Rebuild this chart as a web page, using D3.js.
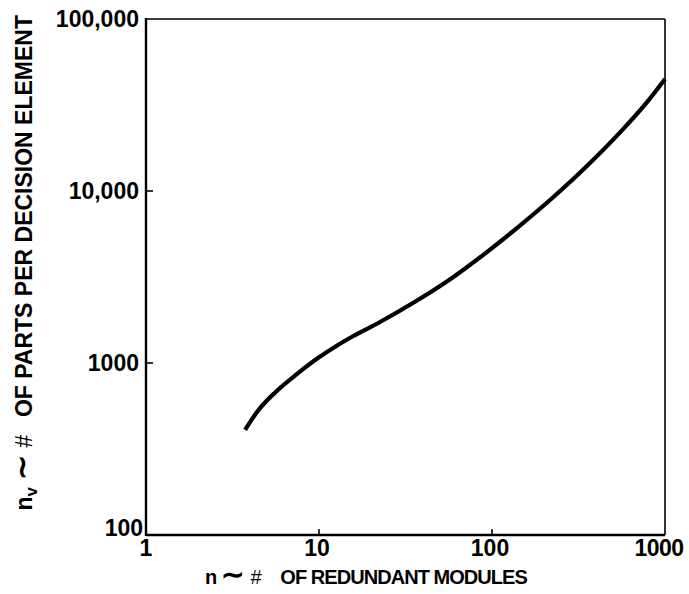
<!DOCTYPE html>
<html>
<head>
<meta charset="utf-8">
<script src="https://cdn.jsdelivr.net/npm/d3@7"></script>
<style>
  html, body { margin: 0; padding: 0; background: #fff; }
  svg { display: block; }
  text { font-family: "Liberation Sans", Arial, Helvetica, sans-serif; font-weight: bold; fill: #000; white-space: pre; }
  .hash { font-weight: normal; font-style: italic; }
</style>
</head>
<body>
<svg id="chart" width="689" height="594"></svg>
<script>
// Data
const modulesN = [3.74, 4.47, 5.62, 7.50, 10, 12.6, 15.8, 22.4, 35.5, 56.2, 89.1, 141, 224, 355, 562, 794, 1000];
const partsNv  = [408, 533, 679, 867, 1079, 1256, 1435, 1726, 2254, 3027, 4256, 6152, 9141, 14030, 22440, 33190, 44770];
const xTickValues = [1, 10, 100, 1000];
const xTickLabels = ["1", "10", "100", "1000"];
const yTickValues = [100, 1000, 10000, 100000];
const yTickLabels = ["100", "1000", "10,000", "100,000"];
const xTitleParts = ["n", "\u223C", "#", "OF REDUNDANT MODULES"];
const yTitleParts = ["n", "v", "\u223C", "#", "OF PARTS PER DECISION ELEMENT"];

const svg = d3.select("#chart");
const pLeft = 146, pRight = 665, pTop = 19, pBottom = 535;

const x = d3.scaleLog().domain([1, 1000]).range([pLeft, pRight]);
const y = d3.scaleLog().domain([100, 100000]).range([pBottom, pTop]);

// Frame
const g = svg.append("g");
g.append("line").attr("x1", pLeft).attr("x2", pRight).attr("y1", pTop).attr("y2", pTop)
  .attr("stroke", "#000").attr("stroke-width", 1.6);
g.append("line").attr("x1", pRight).attr("x2", pRight).attr("y1", pTop).attr("y2", pBottom)
  .attr("stroke", "#000").attr("stroke-width", 1.6);
g.append("line").attr("x1", pLeft).attr("x2", pRight).attr("y1", pBottom).attr("y2", pBottom)
  .attr("stroke", "#000").attr("stroke-width", 2.4);
g.append("line").attr("x1", pLeft).attr("x2", pLeft).attr("y1", pTop - 1).attr("y2", pBottom + 1)
  .attr("stroke", "#000").attr("stroke-width", 2.4);

// Inner ticks
g.selectAll(".xt").data(xTickValues.slice(1, -1)).enter().append("line")
  .attr("x1", d => x(d)).attr("x2", d => x(d)).attr("y1", pBottom).attr("y2", pBottom - 6)
  .attr("stroke", "#000").attr("stroke-width", 1.6);
g.selectAll(".yt").data(yTickValues.slice(1, -1)).enter().append("line")
  .attr("x1", pLeft).attr("x2", pLeft + 7).attr("y1", d => y(d)).attr("y2", d => y(d))
  .attr("stroke", "#000").attr("stroke-width", 1.6);

// X tick labels
g.selectAll(".xl").data(xTickValues).enter().append("text")
  .attr("x", (d, i) => x(d) + (i === 0 ? 0 : (i === 3 ? -6 : -2)))
  .attr("y", pBottom + 21)
  .attr("text-anchor", "middle")
  .attr("font-size", 23)
  .attr("letter-spacing", (d, i) => i === 3 ? -0.6 : 0)
  .text((d, i) => xTickLabels[i]);

// Y tick labels
g.selectAll(".yl").data(yTickValues).enter().append("text")
  .attr("x", (d, i) => i === 0 ? 143 : 139)
  .attr("y", (d, i) => y(d) + (i === 0 ? 1 : 8))
  .attr("text-anchor", "end")
  .attr("font-size", 23)
  .text((d, i) => yTickLabels[i]);

// Curve
const pts = modulesN.map((n, i) => [x(n), y(partsNv[i])]);
svg.append("path")
  .attr("d", d3.line().curve(d3.curveMonotoneX)(pts))
  .attr("fill", "none").attr("stroke", "#000").attr("stroke-width", 4.2)
  .attr("stroke-linecap", "butt");

// X axis title
const xt = svg.append("text")
  .attr("x", 205).attr("y", 584)
  .attr("text-anchor", "start")
  .attr("font-size", 20);
xt.append("tspan").text(xTitleParts[0]);
xt.append("tspan").attr("dx", 4).attr("font-size", 28).text(xTitleParts[1]);
xt.append("tspan").attr("dx", 6).attr("class", "hash").text(xTitleParts[2]);
xt.append("tspan").attr("dx", 19).attr("letter-spacing", -0.95).text(xTitleParts[3]);

// Y axis title (rotated)
const yt = svg.append("text")
  .attr("transform", "translate(32,15) rotate(-90)")
  .attr("text-anchor", "end")
  .attr("font-size", 23);
yt.append("tspan").text(yTitleParts[0]);
yt.append("tspan").attr("font-size", 17).attr("dy", 5).text(yTitleParts[1]);
yt.append("tspan").attr("dx", 7).attr("dy", -5).attr("font-size", 30).text(yTitleParts[2]);
yt.append("tspan").attr("dx", 7).attr("class", "hash").text(yTitleParts[3]);
yt.append("tspan").attr("dx", 18).text(yTitleParts[4]);
</script>
</body>
</html>
